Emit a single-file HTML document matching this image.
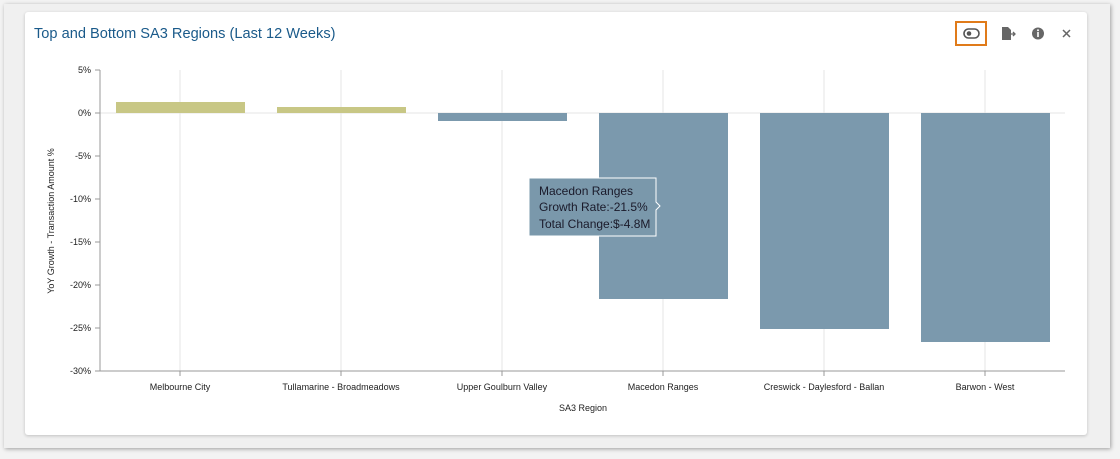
<!DOCTYPE html>
<html><head><style>
body{margin:0;width:1120px;height:459px;background:#f3f3f3;font-family:"Liberation Sans",sans-serif;overflow:hidden;position:relative}
.frame{position:absolute;left:4px;top:4px;width:1106px;height:444px;background:#f0f0f0;box-shadow:1px 1px 4px rgba(0,0,0,.35)}
.card{position:absolute;left:25px;top:12px;width:1062px;height:423px;background:#fff;border-radius:3px;box-shadow:0 1px 3px rgba(0,0,0,.2)}
.title{position:absolute;left:34px;top:26px;font-size:14.6px;color:#1a5a8a}
</style></head><body>
<div class="frame"></div><div class="card"></div>
<div class="title">Top and Bottom SA3 Regions (Last 12 Weeks)</div>
<div style="position:absolute;left:955px;top:21px;width:32px;height:25px;border:2px solid #e07b1a;box-sizing:border-box"></div>
<svg width="1120" height="459" style="position:absolute;left:0;top:0" font-family="Liberation Sans, sans-serif">
<rect x="964" y="29" width="15" height="9" rx="4.5" fill="none" stroke="#555" stroke-width="1.6"/><circle cx="969" cy="33.5" r="2.3" fill="#555"/>
<path d="M1002 27h6l3 3v10h-9z" fill="#666"/><path d="M1010 34h5m-2-2l2 2-2 2" stroke="#666" fill="none" stroke-width="1.3"/>
<circle cx="1038" cy="33.5" r="6" fill="#666"/><rect x="1037.2" y="32" width="1.6" height="5" fill="#fff"/><circle cx="1038" cy="30.3" r="1" fill="#fff"/>
<path d="M1063 30l7 7m0-7l-7 7" stroke="#666" stroke-width="1.5"/>
<g stroke="#e4e4e4">
<line x1="180" y1="70" x2="180" y2="371"/><line x1="341" y1="70" x2="341" y2="371"/><line x1="502" y1="70" x2="502" y2="371"/><line x1="663" y1="70" x2="663" y2="371"/><line x1="824" y1="70" x2="824" y2="371"/><line x1="985" y1="70" x2="985" y2="371"/>
<line x1="100" y1="113" x2="1065" y2="113"/>
</g>
<g fill="#c8c785"><rect x="116" y="102" width="129" height="11"/><rect x="277" y="107" width="129" height="6"/></g>
<g fill="#7b99ad"><rect x="438" y="113" width="129" height="8"/><rect x="599" y="113" width="129" height="186"/><rect x="760" y="113" width="129" height="216"/><rect x="921" y="113" width="129" height="229"/></g>
<line x1="100" y1="70" x2="100" y2="371" stroke="#999"/>
<line x1="100" y1="371" x2="1065" y2="371" stroke="#999"/>
<g font-size="9" fill="#222" text-anchor="end">
<text x="91" y="73">5%</text><text x="91" y="116">0%</text><text x="91" y="159">-5%</text><text x="91" y="202">-10%</text><text x="91" y="245">-15%</text><text x="91" y="288">-20%</text><text x="91" y="331">-25%</text><text x="91" y="374">-30%</text>
</g>
<g stroke="#999"><line x1="95" y1="70" x2="100" y2="70"/><line x1="95" y1="113" x2="100" y2="113"/><line x1="95" y1="156" x2="100" y2="156"/><line x1="95" y1="199" x2="100" y2="199"/><line x1="95" y1="242" x2="100" y2="242"/><line x1="95" y1="285" x2="100" y2="285"/><line x1="95" y1="328" x2="100" y2="328"/><line x1="95" y1="371" x2="100" y2="371"/>
<line x1="180" y1="371" x2="180" y2="376"/><line x1="341" y1="371" x2="341" y2="376"/><line x1="502" y1="371" x2="502" y2="376"/><line x1="663" y1="371" x2="663" y2="376"/><line x1="824" y1="371" x2="824" y2="376"/><line x1="985" y1="371" x2="985" y2="376"/></g>
<g font-size="9" fill="#222" text-anchor="middle">
<text x="180" y="390">Melbourne City</text><text x="341" y="390">Tullamarine - Broadmeadows</text><text x="502" y="390">Upper Goulburn Valley</text><text x="663" y="390">Macedon Ranges</text><text x="824" y="390">Creswick - Daylesford - Ballan</text><text x="985" y="390">Barwon - West</text>
<text x="583" y="411">SA3 Region</text>
<text transform="translate(54 221) rotate(-90)">YoY Growth - Transaction Amount %</text>
</g>
<path d="M529 178h127v24l4 4-4 4v26h-127z" fill="#7a98ab" stroke="#fff" stroke-width="1"/>
<g font-size="12" fill="#1a1a2a"><text x="539" y="195">Macedon Ranges</text><text x="539" y="211">Growth Rate:-21.5%</text><text x="539" y="228">Total Change:$-4.8M</text></g>
</svg>
</body></html>
